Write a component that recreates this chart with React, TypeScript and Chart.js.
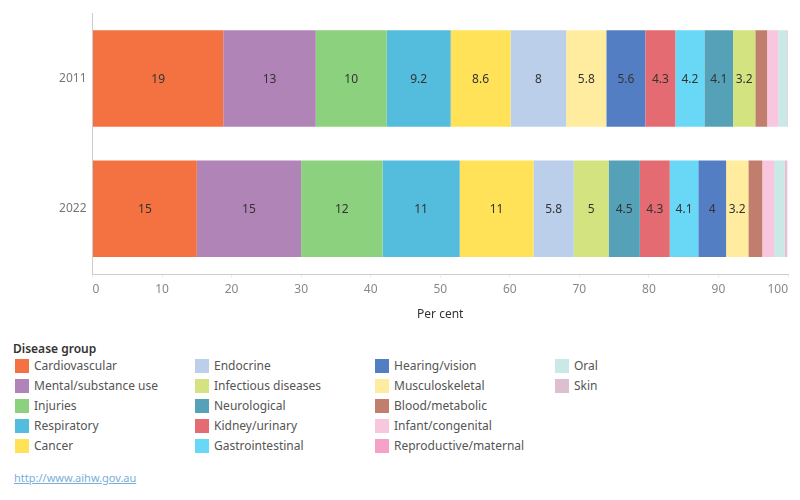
import React, { useEffect, useRef } from "react";
import { Chart, registerables } from "chart.js";

Chart.register(...registerables);

const years = ["2011", "2022"];
const diseases = [
  "Cardiovascular",
  "Mental/substance use",
  "Injuries",
  "Respiratory",
  "Cancer",
  "Endocrine",
  "Infectious diseases",
  "Neurological",
  "Kidney/urinary",
  "Gastrointestinal",
  "Hearing/vision",
  "Musculoskeletal",
  "Blood/metabolic",
  "Infant/congenital",
  "Reproductive/maternal",
  "Oral",
  "Skin",
];
const colors = [
  "#F47242",
  "#B084B6",
  "#8CD17D",
  "#54BCDC",
  "#FFE257",
  "#BCCFEA",
  "#D3E380",
  "#55A2B8",
  "#E46B71",
  "#69D8F7",
  "#547EC4",
  "#FFEC9E",
  "#C17E6C",
  "#F8C7DD",
  "#F5A1C8",
  "#C8E9E6",
  "#DEBFCF",
];
const values2011 = [18.8, 13.3, 10.2, 9.2, 8.6, 8.0, 3.2, 4.1, 4.3, 4.2, 5.6, 5.8, 1.7, 1.6, 0.05, 1.3, 0.05];
const values2022 = [15.0, 15.0, 11.7, 11.1, 10.6, 5.8, 5.0, 4.5, 4.3, 4.1, 4.0, 3.2, 2.0, 1.7, 0.1, 1.5, 0.3];
const xTicks = [0, 10, 20, 30, 40, 50, 60, 70, 80, 90, 100];

const FONT = "'Noto Sans', sans-serif";

function ranges(values: number[]): [number, number][] {
  const order = values.map((v, i) => i).sort((a, b) => values[b] - values[a] || a - b);
  const out: [number, number][] = new Array(values.length);
  let acc = 0;
  for (const i of order) {
    out[i] = [acc, acc + values[i]];
    acc += values[i];
  }
  return out;
}

const labelPlugin = {
  id: "segLabels",
  afterDatasetsDraw(chart: any) {
    const ctx = chart.ctx;
    ctx.save();
    ctx.font = `12px ${FONT}`;
    ctx.fillStyle = "#333333";
    ctx.textAlign = "center";
    ctx.textBaseline = "middle";
    chart.data.datasets.forEach((ds: any, di: number) => {
      const meta = chart.getDatasetMeta(di);
      meta.data.forEach((el: any, i: number) => {
        const [s, e] = ds.data[i];
        const v = e - s;
        if (v < 3) return;
        const txt = String(Number(v.toPrecision(2)));
        ctx.fillText(txt, (el.x + el.base) / 2, el.y + 1);
      });
    });
    ctx.restore();
  },
};

export default function App() {
  const ref = useRef<HTMLCanvasElement>(null);
  useEffect(() => {
    if (!ref.current) return;
    const r11 = ranges(values2011);
    const r22 = ranges(values2022);
    const chart = new Chart(ref.current, {
      type: "bar",
      data: {
        labels: years,
        datasets: diseases.map((d, i) => ({
          label: d,
          data: [r11[i], r22[i]],
          backgroundColor: colors[i],
          borderWidth: 0,
          grouped: false,
          categoryPercentage: 0.74,
          barPercentage: 1,
        })) as any,
      },
      options: {
        indexAxis: "y",
        animation: false,
        responsive: false,
        maintainAspectRatio: false,
        layout: { padding: { top: 12, right: 12, left: 0, bottom: 0 } },
        plugins: { legend: { display: false }, tooltip: { enabled: false } },
        scales: {
          x: {
            min: 0,
            max: 100,
            afterBuildTicks: (s: any) => {
              s.ticks = xTicks.map((v) => ({ value: v }));
            },
            afterFit: (s: any) => {
              s.height = 56;
            },
            grid: {
              display: true,
              drawOnChartArea: false,
              drawTicks: true,
              tickLength: 4,
              color: "#eeeeee",
            },
            border: { display: true, color: "#cccccc" },
            ticks: {
              color: "#888888",
              font: { family: FONT, size: 12 },
              padding: 4,
              maxRotation: 0,
              align: "inner",
            },
            title: {
              display: true,
              text: "Per cent",
              color: "#333333",
              font: { family: FONT, size: 12 },
              padding: { top: 0, bottom: 8 },
            },
          },
          y: {
            afterFit: (s: any) => {
              s.width = 92.5;
            },
            grid: { display: false, drawTicks: false },
            border: { display: true, color: "#cccccc" },
            ticks: { color: "#777777", font: { family: FONT, size: 12 }, padding: 6 },
          },
        },
      },
      plugins: [labelPlugin],
    });
    return () => chart.destroy();
  }, []);

  const legendOrder = diseases.map((d, i) => i);
  return (
    <div style={{ position: "absolute", left: 0, top: 0, width: 800, height: 500, fontFamily: FONT }}>
      <canvas ref={ref} width={800} height={330} style={{ position: "absolute", left: 0, top: 0 }} />
      <div
        style={{
          position: "absolute",
          left: 13,
          top: 340,
          fontSize: 12,
          fontWeight: 600,
          color: "#333333",
          lineHeight: "18px",
        }}
      >
        Disease group
      </div>
      {legendOrder.map((i) => {
        const col = Math.floor(i / 5);
        const row = i % 5;
        return (
          <div
            key={i}
            style={{
              position: "absolute",
              left: 15 + col * 180,
              top: 359 + row * 20,
              display: "flex",
              alignItems: "center",
              height: 14,
            }}
          >
            <div style={{ width: 14, height: 14, background: colors[i] }} />
            <span style={{ marginLeft: 5, fontSize: 12, color: "#555555", whiteSpace: "nowrap", lineHeight: "14px" }}>
              {diseases[i]}
            </span>
          </div>
        );
      })}
      <a
        href="http://www.aihw.gov.au"
        style={{
          position: "absolute",
          left: 14,
          top: 470,
          fontSize: 11,
          color: "#7aaed6",
          textDecoration: "underline",
          lineHeight: "16px",
        }}
      >
        http://www.aihw.gov.au
      </a>
    </div>
  );
}
